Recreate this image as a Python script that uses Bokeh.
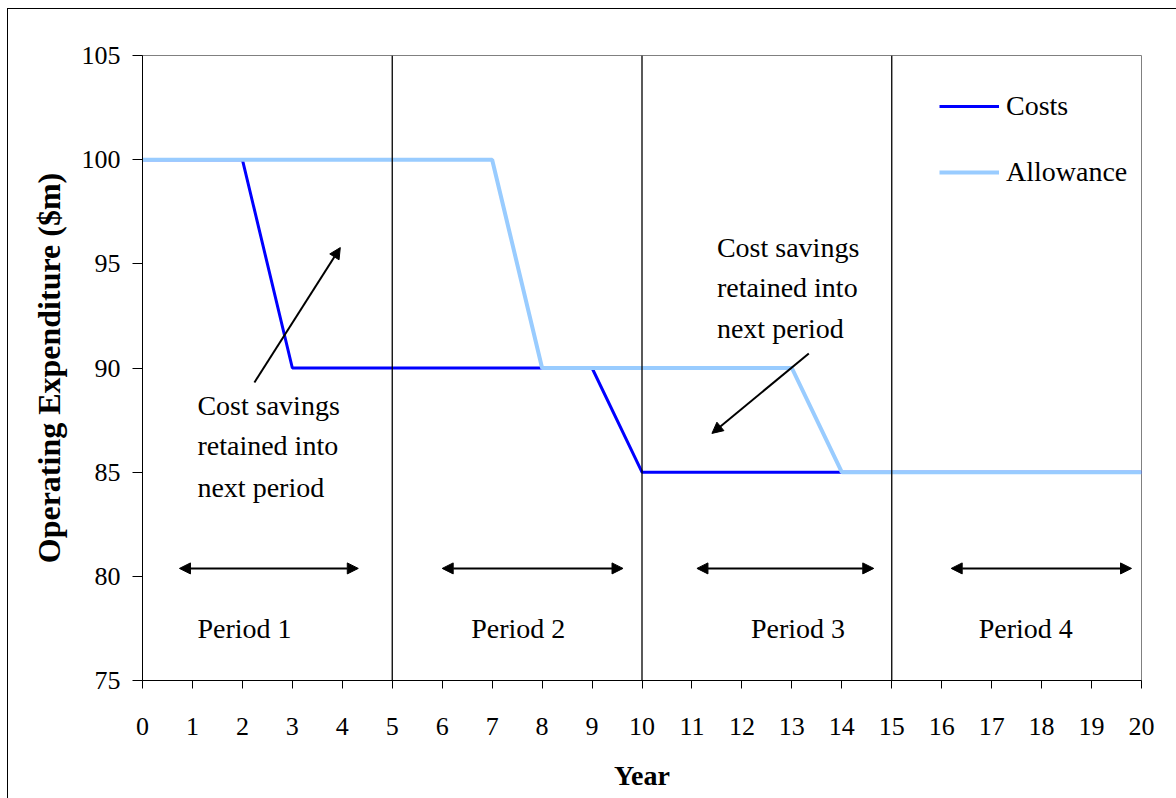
from bokeh.plotting import figure
from bokeh.models import Range1d, FixedTicker, Span, Label, Arrow, NormalHead, Legend, LegendItem
from bokeh.layouts import column
from bokeh.embed import file_html
from bokeh.resources import INLINE

# ---- data ----
cost_years = [0, 2, 3, 9, 10, 20]
cost_values = [100, 100, 90, 90, 85, 85]
allow_years = [0, 7, 8, 13, 14, 20]
allow_values = [100, 100, 90, 90, 85, 85]
period_bounds = [5, 10, 15]
period_names = ["Period 1", "Period 2", "Period 3", "Period 4"]
period_label_x = [1.1, 6.58, 12.18, 16.74]
period_arrow_start = [0.74, 6.0, 11.1, 16.19]
period_arrow_end = [4.32, 9.62, 14.64, 19.8]
x_ticks = list(range(0, 21))
y_ticks = [75, 80, 85, 90, 95, 100, 105]
note_lines = ["Cost savings", "retained into", "next period"]

FONT = "Liberation Serif"

p = figure(width=1168, height=789, output_backend="svg", toolbar_location=None,
           x_range=Range1d(0, 20), y_range=Range1d(75, 105),
           min_border_left=134, min_border_top=46, min_border_right=35, min_border_bottom=118)
p.background_fill_color = "white"
p.border_fill_color = "white"
p.outline_line_color = "#808080"
p.outline_line_width = 1
p.grid.visible = False

for ax in (p.xaxis[0], p.yaxis[0]):
    ax.axis_line_color = "black"
    ax.axis_line_width = 1
    ax.major_tick_line_color = "black"
    ax.major_tick_in = 0
    ax.minor_tick_line_color = None
    ax.major_label_text_font = FONT
    ax.major_label_text_font_size = "26px"
    ax.major_label_text_color = "black"
    ax.axis_label_text_font = FONT
    ax.axis_label_text_font_style = "bold"
    ax.axis_label_text_color = "black"

p.xaxis.ticker = FixedTicker(ticks=x_ticks)
p.yaxis.ticker = FixedTicker(ticks=y_ticks)
p.xaxis.major_tick_out = 8
p.yaxis.major_tick_out = 10
p.xaxis.major_label_standoff = 29
p.yaxis.major_label_standoff = 12
p.xaxis.axis_label = "Year"
p.yaxis.axis_label = "Operating Expenditure ($m)"
p.xaxis.axis_label_text_font_size = "28px"
p.yaxis.axis_label_text_font_size = "32px"
p.xaxis.axis_label_standoff = 22
p.yaxis.axis_label_standoff = 12

# period boundaries
for b in period_bounds:
    p.add_layout(Span(location=b, dimension="height", line_color="black", line_width=1.3))

# series
r_cost = p.line(cost_years, cost_values, line_color="#0000FF", line_width=3)
r_allow = p.line(allow_years, allow_values, line_color="#99CCFF", line_width=4)

legend = Legend(items=[LegendItem(label="Costs", renderers=[r_cost]),
                       LegendItem(label="Allowance", renderers=[r_allow])],
                location=(797, 492), padding=0, spacing=34, glyph_width=60, glyph_height=30,
                label_height=30, label_standoff=7, border_line_color=None,
                background_fill_alpha=0, label_text_font=FONT, label_text_font_size="28px",
                label_text_color="black")
p.add_layout(legend, "center")

# period arrows and labels
arrow_y = 80.38
for x0, x1 in zip(period_arrow_start, period_arrow_end):
    p.add_layout(Arrow(x_start=x0, y_start=arrow_y, x_end=x1, y_end=arrow_y,
                       line_color="black", line_width=2,
                       start=NormalHead(size=11, fill_color="black", line_color="black", line_width=1),
                       end=NormalHead(size=11, fill_color="black", line_color="black", line_width=1)))
for name, lx in zip(period_names, period_label_x):
    p.add_layout(Label(x=lx, y=77.52, text=name, text_font=FONT, text_font_size="28px",
                       text_color="black", text_baseline="alphabetic", text_align="left"))

# annotation notes
left_note_y = [88.22, 86.30, 84.28]
right_note_y = [95.80, 93.88, 91.92]
for t, yy in zip(note_lines, left_note_y):
    p.add_layout(Label(x=1.1, y=yy, text=t, text_font=FONT, text_font_size="28px",
                       text_color="black", text_baseline="alphabetic", text_align="left"))
for t, yy in zip(note_lines, right_note_y):
    p.add_layout(Label(x=11.5, y=yy, text=t, text_font=FONT, text_font_size="28px",
                       text_color="black", text_baseline="alphabetic", text_align="left"))

p.add_layout(Arrow(x_start=2.24, y_start=89.30, x_end=3.96, y_end=95.78, line_color="black", line_width=2,
                   end=NormalHead(size=11, fill_color="black", line_color="black", line_width=1)))
p.add_layout(Arrow(x_start=13.34, y_start=90.70, x_end=11.4, y_end=86.86, line_color="black", line_width=2,
                   end=NormalHead(size=11, fill_color="black", line_color="black", line_width=1)))

layout = column(p, margin=(8, 0, 0, 7),
                styles={"border-left": "1px solid black", "border-top": "1px solid black"})

open("out.html", "w").write(file_html(layout, INLINE))
